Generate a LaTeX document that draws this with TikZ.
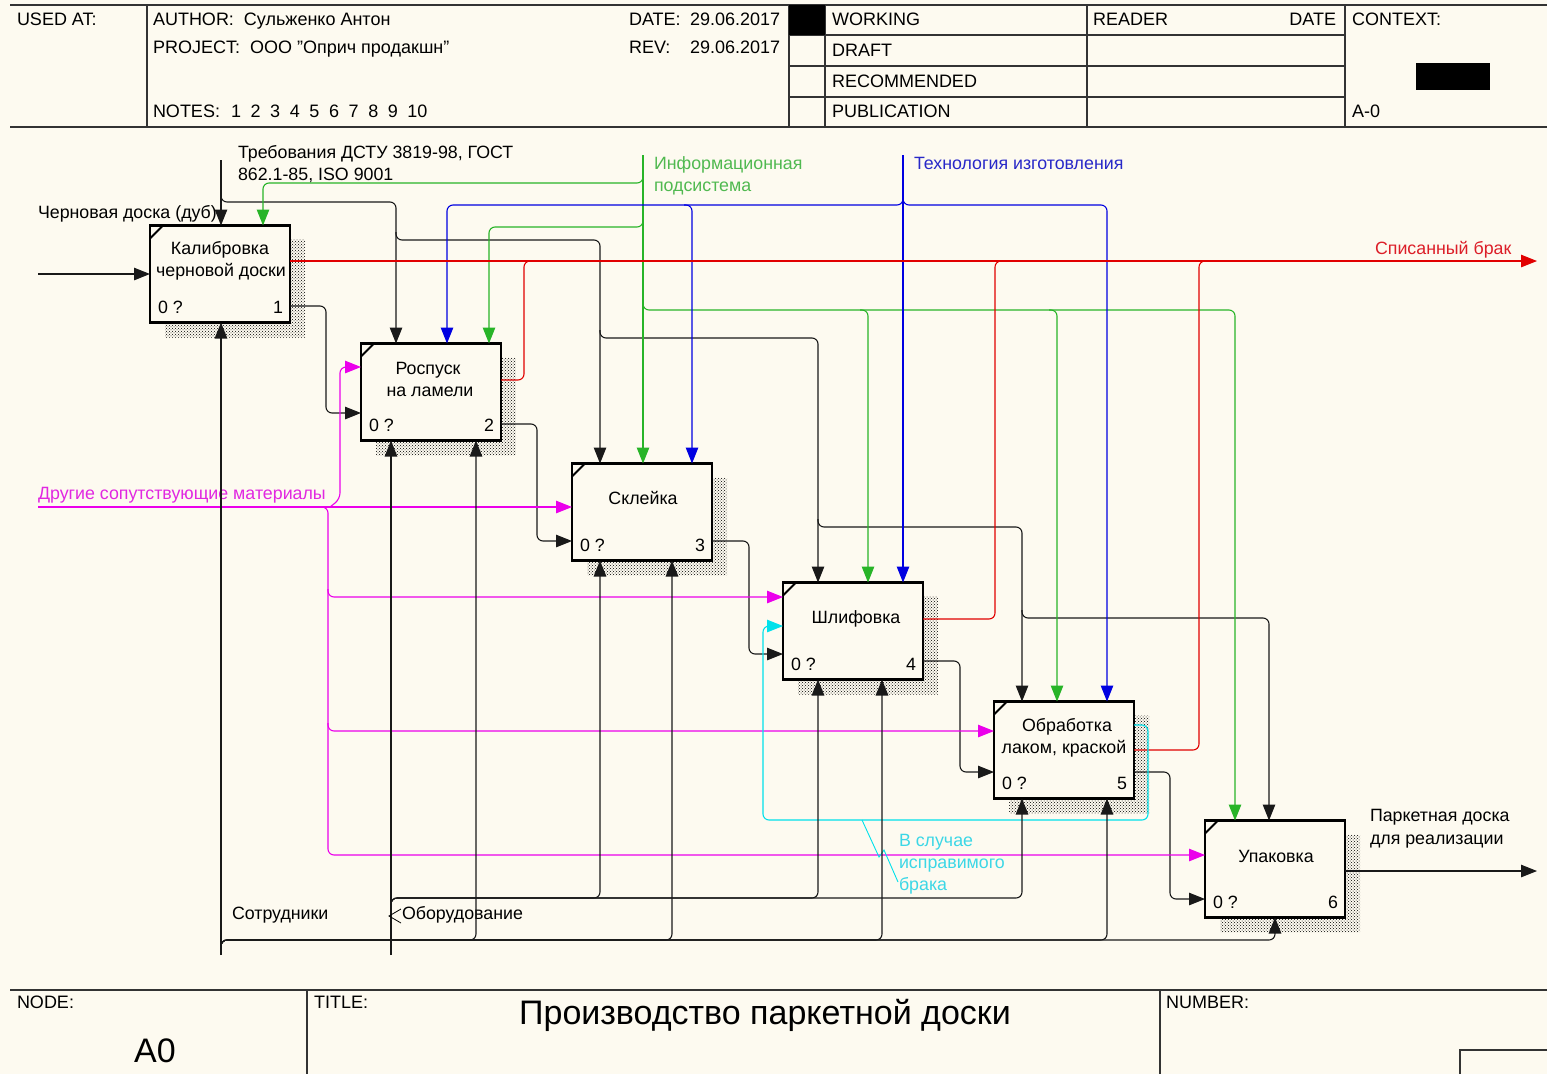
\documentclass[tikz,border=0pt]{standalone}
\usepackage{fontspec}
\setmainfont{Liberation Sans}
\usetikzlibrary{arrows.meta,patterns}
\definecolor{bgc}{RGB}{253,250,240}
\definecolor{cgreen}{RGB}{40,180,40}
\definecolor{tgreen}{RGB}{80,185,80}
\definecolor{cblue}{RGB}{0,0,225}
\definecolor{tblue}{RGB}{40,40,200}
\definecolor{cred}{RGB}{225,0,0}
\definecolor{tred}{RGB}{220,30,40}
\definecolor{cmag}{RGB}{235,0,235}
\definecolor{tmag}{RGB}{225,40,225}
\definecolor{ccyan}{RGB}{0,225,235}
\definecolor{tcyan}{RGB}{60,215,230}
\pgfdeclarelayer{back}
\pgfdeclarelayer{shad}
\pgfsetlayers{back,shad,main}
\newcommand\idefbox[5]{%
  \node[fbox] (#1) at (#2,#3) {};
  \node[anchor=base west] (#1z) at ([xshift=8pt,yshift=9pt]#1.south west) {0 ?};
  \node[anchor=base east] (#1n) at ([xshift=-7pt,yshift=9pt]#1.south east) {#4};
  \draw[line width=2pt] ([yshift=-13pt]#1.north west) -- ([xshift=13pt]#1.north west);
  \begin{pgfonlayer}{shad}
  \fill[pattern=crosshatch dots, pattern color=black]
    ([yshift=-14pt]#1.north east) -- ([xshift=15pt,yshift=-14pt]#1.north east)
    -- ([xshift=15pt,yshift=-15pt]#1.south east) -- ([xshift=15pt,yshift=-15pt]#1.south west)
    -- ([xshift=15pt]#1.south west) -- (#1.south east) -- cycle;
  \end{pgfonlayer}
}
\newcommand\nsp{\hspace{9.6pt}}
\begin{document}
\begin{tikzpicture}[x=1pt,y=-1pt,
  every node/.style={inner sep=0pt, outer sep=0pt, font=\fontsize{17.8}{21}\selectfont},
  fbox/.style={draw=black, line width=2.8pt, fill=bgc, minimum width=140pt, minimum height=97pt},
  con/.style={line width=1.1pt, rounded corners=6pt, draw=black!90},
  tip/.style={-{Triangle[length=16pt,width=12.5pt]}},
  frame/.style={line width=1.4pt, draw=black!80},
  lbl/.style={anchor=base west},
  hdr/.style={anchor=base west, font=\fontsize{18}{21}\selectfont},
  ctr/.style={anchor=base},
]
\begin{pgfonlayer}{back}
\fill[bgc] (0,0) rectangle (1547,1074);
\end{pgfonlayer}
\useasboundingbox (0,0) rectangle (1547,1074);

% ---------------- header ----------------
\draw[frame] (10,5) -- (1547,5);
\draw[frame] (10,127) -- (1547,127);
\draw[frame] (147,5) -- (147,127);
\draw[frame] (789,5) -- (789,127);
\draw[frame] (825,5) -- (825,127);
\draw[frame] (1087,5) -- (1087,127);
\draw[frame] (1345,5) -- (1345,127);
\draw[frame] (789,35) -- (1345,35);
\draw[frame] (789,66) -- (1345,66);
\draw[frame] (789,97) -- (1345,97);
\fill[black] (789,5) rectangle (825,35);
\fill[black] (1416,63) rectangle (1490,90);

\node[hdr] (usedat) at (17,25) {USED AT:};
\node[hdr] (author) at (153,25) {AUTHOR:\ \ Сульженко Антон};
\node[hdr] (project) at (153,53) {PROJECT:\ \ ООО "Оприч продакшн"};
\node[hdr] (notes) at (153,117) {NOTES:\hspace{11pt}1\nsp 2\nsp 3\nsp 4\nsp 5\nsp 6\nsp 7\nsp 8\nsp 9\nsp 10};
\node[hdr] (datek) at (629,25) {DATE:};
\node[hdr] (datev) at (690,25) {29.06.2017};
\node[hdr] (revk) at (629,53) {REV:};
\node[hdr] (revv) at (690,53) {29.06.2017};
\node[hdr] (working) at (832,25) {WORKING};
\node[hdr] (draft) at (832,56) {DRAFT};
\node[hdr] (recom) at (832,87) {RECOMMENDED};
\node[hdr] (publ) at (832,117) {PUBLICATION};
\node[hdr] (reader) at (1093,25) {READER};
\node[hdr, anchor=base east] (rdate) at (1336,25) {DATE};
\node[hdr] (context) at (1352,25) {CONTEXT:};
\node[hdr] (azero) at (1352,117) {A-0};

% ---------------- footer ----------------
\draw[frame] (10,990) -- (1547,990);
\draw[frame] (307,990) -- (307,1074);
\draw[frame] (1160,990) -- (1160,1074);
\draw[frame] (1547,1050) -- (1460,1050) -- (1460,1074);
\node[hdr] (nodek) at (17,1008) {NODE:};
\node[hdr] (titlek) at (314,1008) {TITLE:};
\node[hdr] (numk) at (1166,1008) {NUMBER:};
\node[ctr, font=\fontsize{34}{40}\selectfont] (nodev) at (155,1062) {A0};
\node[ctr, font=\fontsize{34}{40}\selectfont] (titlev) at (765,1024) {Производство паркетной доски};

% ---------------- boxes ----------------
\idefbox{b1}{220}{274}{1}{}
\idefbox{b2}{431}{392}{2}{}
\idefbox{b3}{642}{512}{3}{}
\idefbox{b4}{853}{631}{4}{}
\idefbox{b5}{1064}{750}{5}{}
\idefbox{b6}{1275}{869}{6}{}

\node[ctr] (t1a) at (220,254) {Калибровка};
\node[ctr] (t1b) at (221,276) {черновой доски};
\node[ctr] (t2a) at (428,374) {Роспуск};
\node[ctr] (t2b) at (430,396) {на ламели};
\node[ctr] (t3a) at (643,504) {Склейка};
\node[ctr] (t4a) at (856,623) {Шлифовка};
\node[ctr] (t5a) at (1067,731) {Обработка};
\node[ctr] (t5b) at (1064,753) {лаком, краской};
\node[ctr] (t6a) at (1276,862) {Упаковка};

% ---------------- labels ----------------
\node[lbl] (treb1) at (238,158) {Требования ДСТУ 3819-98, ГОСТ};
\node[lbl] (treb2) at (238,180) {862.1-85, ISO 9001};
\node[lbl] (chern) at (38,218) {Черновая доска (дуб)};
\node[lbl, text=tgreen] (inf1) at (654,169) {Информационная};
\node[lbl, text=tgreen] (inf2) at (654,191) {подсистема};
\node[lbl, text=tblue] (tech) at (914,169) {Технология изготовления};
\node[lbl, text=tred] (spis) at (1375,254) {Списанный брак};
\node[lbl, text=tmag] (drug) at (38,499) {Другие сопутствующие материалы};
\node[lbl] (park1) at (1370,821) {Паркетная доска};
\node[lbl] (park2) at (1370,844) {для реализации};
\node[lbl, text=tcyan] (vsl1) at (899,846) {В случае};
\node[lbl, text=tcyan] (vsl2) at (899,868) {исправимого};
\node[lbl, text=tcyan] (vsl3) at (899,890) {брака};
\node[lbl] (sotr) at (232,919) {Сотрудники};
\node[lbl] (obor) at (402,919) {Оборудование};

% ---------------- controls: Требования (black) ----------------
\coordinate (trebtop) at (221,160);
\draw[con,tip] (trebtop) -- ([xshift=71pt]b1.north west);
\draw[con,tip] (221,194) -- (221,202) -- (396,202) -- ([xshift=35pt]b2.north west);
\draw[con,tip] (396,232) -- (396,240) -- (600,240) -- ([xshift=28pt]b3.north west);
\draw[con,tip] (600,330) -- (600,338) -- (818,338) -- ([xshift=35pt]b4.north west);
\draw[con,tip] (818,519) -- (818,527) -- (1022,527) -- ([xshift=28pt]b5.north west);
\draw[con,tip] (1022,610) -- (1022,618) -- (1269,618) -- ([xshift=64pt]b6.north west);

% ---------------- controls: Информационная подсистема (green) ----------------
\coordinate (inftop) at (643,155);
\draw[con,tip,draw=cgreen] (inftop) -- ([xshift=71pt]b3.north west);
\draw[con,tip,draw=cgreen] (643,175) -- (643,183) -- (263,183) -- ([xshift=113pt]b1.north west);
\draw[con,tip,draw=cgreen] (643,219) -- (643,227) -- (489,227) -- ([xshift=128pt]b2.north west);
\draw[con,tip,draw=cgreen] (643,302) -- (643,310) -- (1235,310) -- ([xshift=30pt]b6.north west);
\draw[con,tip,draw=cgreen] (860,310) -- (868,310) -- ([xshift=85pt]b4.north west);
\draw[con,tip,draw=cgreen] (1049,310) -- (1057,310) -- ([xshift=63pt]b5.north west);

% ---------------- controls: Технология изготовления (blue) ----------------
\coordinate (techtop) at (903,155);
\draw[con,tip,draw=cblue] (techtop) -- ([xshift=120pt]b4.north west);
\draw[con,tip,draw=cblue] (903,197) -- (903,205) -- (447,205) -- ([xshift=86pt]b2.north west);
\draw[con,tip,draw=cblue] (903,197) -- (903,205) -- (1107,205) -- ([xshift=113pt]b5.north west);
\draw[con,tip,draw=cblue] (684,205) -- (692,205) -- ([xshift=120pt]b3.north west);

% ---------------- outputs: Списанный брак (red) ----------------
\coordinate (spisend) at (1537,261);
\draw[con,tip,draw=cred] ([yshift=13pt]b1.east) -- (spisend);
\draw[con,draw=cred] ([yshift=12pt]b2.east) -- (524,380) -- (524,261) -- (532,261);
\draw[con,draw=cred] ([yshift=12pt]b4.east) -- (995,619) -- (995,261) -- (1003,261);
\draw[con,draw=cred] (b5.east) -- (1199,750) -- (1199,261) -- (1207,261);

% ---------------- main flow (black) ----------------
\coordinate (inleft) at (38,274);
\draw[con,tip] (inleft) -- (b1.west);
\draw[con,tip] ([yshift=-32pt]b1.east) -- (326,306) -- (326,413) -- ([yshift=-21pt]b2.west);
\draw[con,tip] ([yshift=-32pt]b2.east) -- (537,424) -- (537,541) -- ([yshift=-29pt]b3.west);
\draw[con,tip] ([yshift=-29pt]b3.east) -- (749,541) -- (749,654) -- ([yshift=-23pt]b4.west);
\draw[con,tip] ([yshift=-30pt]b4.east) -- (960,661) -- (960,772) -- ([yshift=-22pt]b5.west);
\draw[con,tip] ([yshift=-22pt]b5.east) -- (1170,772) -- (1170,899) -- ([yshift=-30pt]b6.west);
\coordinate (outend) at (1537,871);
\draw[con,tip] ([yshift=-2pt]b6.east) -- (outend);

% ---------------- inputs: Другие сопутствующие материалы (magenta) ----------------
\coordinate (magleft) at (38,507);
\draw[con,tip,draw=cmag] (magleft) -- ([yshift=5pt]b3.west);
\draw[con,tip,draw=cmag] (330,507) -- (340,499) -- (340,367) -- ([yshift=25pt]b2.west);
\draw[con,tip,draw=cmag] (320,507) -- (328,507) -- (328,855) -- ([yshift=14pt]b6.west);
\draw[con,tip,draw=cmag] (328,589) -- (328,597) -- ([yshift=34pt]b4.west);
\draw[con,tip,draw=cmag] (328,723) -- (328,731) -- ([yshift=19pt]b5.west);

% ---------------- feedback (cyan) ----------------
\draw[con,tip,draw=ccyan] ([yshift=25pt]b5.east) -- (1148,725) -- (1148,820) -- (763,820) -- (763,626) -- ([yshift=5pt]b4.west);
\draw[ccyan, line width=0.9pt] (862,820) -- (879,857) -- (884,850) -- (898,882);

% ---------------- mechanisms ----------------
\coordinate (sotrbot) at (221,955);
\draw[con,tip] (sotrbot) -- ([xshift=71pt]b1.south west);
\draw[con,tip] (221,948) -- (221,940) -- (476,940) -- ([xshift=45pt]b2.south);
\draw[con,tip] (221,948) -- (221,940) -- (672,940) -- ([xshift=30pt]b3.south);
\draw[con,tip] (221,948) -- (221,940) -- (882,940) -- ([xshift=29pt]b4.south);
\draw[con,tip] (221,948) -- (221,940) -- (1107,940) -- ([xshift=43pt]b5.south);
\draw[con,tip] (221,948) -- (221,940) -- (1275,940) -- (b6.south);

\coordinate (oborbot) at (391,955);
\draw[con,tip] (oborbot) -- ([xshift=-40pt]b2.south);
\draw[con,tip] (391,906) -- (391,898) -- (600,898) -- ([xshift=-42pt]b3.south);
\draw[con,tip] (391,906) -- (391,898) -- (818,898) -- ([xshift=-35pt]b4.south);
\draw[con,tip] (391,906) -- (391,898) -- (1022,898) -- ([xshift=-42pt]b5.south);
\draw[line width=0.8pt] (401,909) -- (389,916) -- (401,923);

\end{tikzpicture}
\end{document}
